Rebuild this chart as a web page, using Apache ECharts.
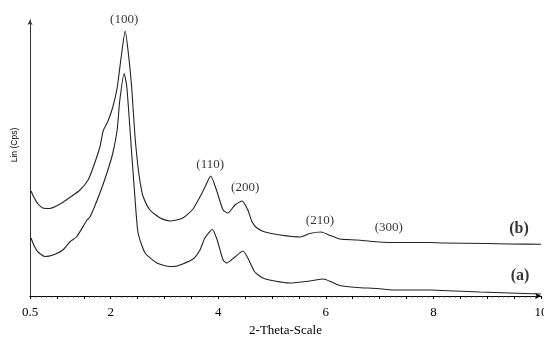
<!DOCTYPE html>
<html>
<head>
<meta charset="utf-8">
<script src="https://cdn.jsdelivr.net/npm/echarts@6/dist/echarts.min.js"></script>
<style>
  html, body { margin: 0; padding: 0; background: #fff; }
  #chart { width: 544px; height: 339px; }
</style>
</head>
<body>
<div id="chart"></div>
<script>
// 2-theta positions and intensities (arbitrary units)
const thetaB = [0.52, 0.57, 0.65, 0.74, 0.87, 1.06, 1.24, 1.43, 1.58, 1.67, 1.80, 1.86, 1.95, 2.04, 2.12, 2.20, 2.27,
  2.33, 2.39, 2.45, 2.51, 2.55, 2.60, 2.73, 2.92, 3.10, 3.34, 3.53, 3.68, 3.77, 3.86, 3.96, 4.09, 4.18, 4.31, 4.44,
  4.55, 4.63, 4.72, 4.87, 5.15, 5.52, 5.70, 5.91, 6.08, 6.26, 6.58, 6.88, 7.19, 7.94, 8.18, 9.00, 9.42, 10.0];
const countsB = [105, 99, 92, 88, 87.5, 92, 98.5, 106, 116, 128, 149, 165, 175, 189, 208, 241, 265,
  242, 209, 161, 128, 113, 100, 86, 78, 75, 78, 87, 101, 111, 120, 107, 86, 83, 91, 95,
  86, 74, 68, 64, 61, 59, 62.5, 64, 60.5, 57, 56, 54.5, 53.5, 53.5, 53, 52.5, 52, 51.7];

const thetaA = [0.52, 0.57, 0.65, 0.78, 0.93, 1.11, 1.24, 1.37, 1.56, 1.62, 1.80, 1.93, 2.04, 2.12, 2.17, 2.25, 2.30,
  2.39, 2.45, 2.51, 2.64, 2.86, 3.10, 3.23, 3.53, 3.66, 3.75, 3.89, 3.98, 4.09, 4.16, 4.31, 4.46, 4.55, 4.68, 4.83,
  5.05, 5.33, 5.70, 5.95, 6.11, 6.26, 6.58, 6.95, 7.25, 7.94, 8.40, 8.86, 9.42, 10.0];
const countsA = [58, 51, 44, 39.5, 41, 46, 54, 59.5, 76, 79.5, 103, 123, 143, 166, 196, 222.5, 209,
  143, 99, 63, 43, 33, 29.5, 30, 37, 46, 58, 66.5, 56, 36, 33, 39, 45, 38, 24, 18,
  15, 13, 15, 17, 14, 10.5, 8.5, 7.5, 6, 6, 5, 4, 3, 2];

// reflection labels and curve tags
const noteText = ["(100)", "(110)", "(200)", "(210)", "(300)"];
const noteTheta = [2.25, 3.85, 4.50, 5.89, 7.17];
const noteCounts = [276, 131, 108, 75, 68];

const tagText = ["(b)", "(a)"];
const tagTheta = [9.59, 9.61];
const tagCounts = [67, 20];

const xLabels = [0.5, 2, 4, 6, 8, 10];

const pairs = (xs, ys) => xs.map((x, i) => [x, ys[i]]);

const chart = echarts.init(document.getElementById("chart"));

const lineStyle = { color: "#222", width: 1.1 };
const serif = "'Liberation Serif', 'DejaVu Serif', serif";

chart.setOption({
  animation: false,
  textStyle: { fontFamily: serif },
  grid: { left: 30, right: 3, top: 20, bottom: 43, outerBoundsMode: "none" },
  xAxis: {
    type: "value",
    min: 0.5,
    max: 10,
    interval: 0.5,
    name: "2-Theta-Scale",
    nameLocation: "middle",
    nameGap: 25,
    nameTextStyle: { color: "#000", fontSize: 13, fontFamily: serif },
    axisLine: {
      lineStyle: { color: "#000", width: 1 },
      symbol: ["none", "arrow"],
      symbolSize: [5, 6],
    },
    axisTick: { length: 3, lineStyle: { color: "#000" } },
    minorTick: { show: true, splitNumber: 5, length: 1.5, lineStyle: { color: "#333" } },
    axisLabel: {
      color: "#000",
      fontSize: 13,
      margin: 10,
      fontFamily: serif,
      hideOverlap: false,
      formatter: (v) => (xLabels.some((t) => Math.abs(t - v) < 1e-6) ? String(v) : ""),
    },
    splitLine: { show: false },
  },
  yAxis: {
    type: "value",
    min: 0,
    max: 276,
    axisLine: {
      show: true,
      lineStyle: { color: "#333", width: 1 },
      symbol: ["none", "arrow"],
      symbolSize: [4, 5],
    },
    axisTick: { show: false },
    axisLabel: { show: false },
    splitLine: { show: false },
  },
  graphic: [
    {
      type: "text",
      x: 15,
      y: 145,
      rotation: Math.PI / 2,
      style: {
        text: "Lin (Cps)",
        fontSize: 8.5,
        fontFamily: "'Liberation Sans', Arial, sans-serif",
        fill: "#000",
        align: "center",
        verticalAlign: "middle",
      },
    },
  ],
  series: [
    {
      name: "b",
      type: "line",
      data: pairs(thetaB, countsB),
      symbol: "none",
      smooth: 0.2,
      lineStyle,
    },
    {
      name: "a",
      type: "line",
      data: pairs(thetaA, countsA),
      symbol: "none",
      smooth: 0.2,
      lineStyle,
    },
    {
      name: "notes",
      type: "scatter",
      symbolSize: 0,
      data: noteText.map((t, i) => ({ name: t, value: [noteTheta[i], noteCounts[i]] })),
      label: {
        show: true,
        position: "inside",
        formatter: (p) => p.name,
        color: "#000",
        fontSize: 13,
        fontFamily: serif,
      },
      z: 5,
    },
    {
      name: "tags",
      type: "scatter",
      symbolSize: 0,
      data: tagText.map((t, i) => ({ name: t, value: [tagTheta[i], tagCounts[i]] })),
      label: {
        show: true,
        position: "inside",
        formatter: (p) => p.name,
        color: "#000",
        fontSize: 16,
        fontWeight: "bold",
        fontFamily: serif,
      },
      z: 5,
    },
  ],
});
</script>
</body>
</html>
